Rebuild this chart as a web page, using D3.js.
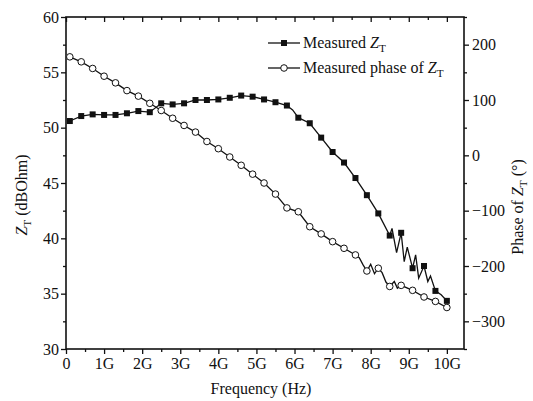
<!DOCTYPE html>
<html>
<head>
<meta charset="utf-8">
<script src="https://cdn.jsdelivr.net/npm/d3@7"></script>
<style>
  html, body { margin: 0; padding: 0; background: #fff; }
  svg text { font-family: "Liberation Serif", "Times New Roman", serif; fill: #111; }
</style>
</head>
<body>
<div id="chart"></div>
<script>
// marker positions (GHz)
const freqGHz = [0.1, 0.4, 0.7, 1.0, 1.3, 1.6, 1.9, 2.2, 2.5, 2.8, 3.1, 3.4, 3.7, 4.0, 4.3, 4.6, 4.9,
                 5.2, 5.5, 5.8, 6.1, 6.4, 6.7, 7.0, 7.3, 7.6, 7.9, 8.2, 8.5, 8.8, 9.1, 9.4, 9.7, 10.0];
// measured Z_T (dBOhm)
const ztDb = [50.6, 51.05, 51.2, 51.15, 51.15, 51.3, 51.5, 51.4, 52.2, 52.1, 52.2, 52.5, 52.5, 52.55, 52.7, 52.9, 52.8,
              52.55, 52.3, 52.0, 50.9, 50.4, 49.1, 47.8, 46.85, 45.45, 43.9, 42.25, 40.25, 40.5, 37.3, 37.5, 35.25, 34.35];
// measured phase of Z_T (deg)
const phaseDeg = [178, 169, 157, 143, 131, 117, 107, 94, 81, 67, 54, 42, 25, 12, -3, -18, -34,
                  -50, -70, -95, -102, -129, -142, -156, -168, -180, -209, -204, -237, -235, -244, -256, -264, -275];

// extra trace points between markers (the zig-zag part of the curves)
const ztExtraF = [5.95, 8.56, 8.68, 8.88, 8.96, 9.18, 9.26, 9.5, 9.57, 9.85];
const ztExtraV = [51.6, 40.9, 38.7, 37.9, 39.2, 38.5, 36.4, 36.1, 36.6, 34.9];
const phExtraF = [7.7, 7.8, 8.0, 8.1, 8.3, 8.4, 8.62, 8.7];
const phExtraV = [-185, -198, -197, -214, -212, -229, -228, -240];

// ticks
const xMajor = [0, 1, 2, 3, 4, 5, 6, 7, 8, 9, 10];
const xMinor = [0.5, 1.5, 2.5, 3.5, 4.5, 5.5, 6.5, 7.5, 8.5, 9.5];
const yLeftMajor = [30, 35, 40, 45, 50, 55, 60];
const yLeftMinor = [32.5, 37.5, 42.5, 47.5, 52.5, 57.5];
const yRightMajor = [-300, -200, -100, 0, 100, 200];
const yRightMinor = [-350, -250, -150, -50, 50, 150, 250];

const W = 533, H = 401;
const L = 66, R = 464, T = 17, B = 349;

const svg = d3.select('#chart').append('svg')
    .attr('width', W).attr('height', H);

const x = d3.scaleLinear().domain([0, 10.45]).range([L, R]);
const yL = d3.scaleLinear().domain([30, 60]).range([B, T]);
const yR = d3.scaleLinear().domain([-350, 250]).range([B, T]);

function styleAxis(g) {
    g.select('.domain').remove();
    g.selectAll('line').attr('stroke', '#111').attr('stroke-width', 1.3);
    g.selectAll('text').style('font-size', '16px');
}

const fmtG = d => d === 0 ? '0' : d + 'G';

// bottom axis
svg.append('g').attr('transform', `translate(0,${B})`)
    .call(d3.axisBottom(x).tickValues(xMajor).tickFormat(fmtG).tickSize(5).tickPadding(4))
    .call(styleAxis);
svg.append('g').attr('transform', `translate(0,${B})`)
    .call(d3.axisBottom(x).tickValues(xMinor).tickFormat('').tickSize(3))
    .call(styleAxis);
// top axis (ticks inward)
svg.append('g').attr('transform', `translate(0,${T})`)
    .call(d3.axisBottom(x).tickValues(xMajor).tickFormat('').tickSize(5))
    .call(styleAxis);
svg.append('g').attr('transform', `translate(0,${T})`)
    .call(d3.axisBottom(x).tickValues(xMinor).tickFormat('').tickSize(3))
    .call(styleAxis);
// left axis
svg.append('g').attr('transform', `translate(${L},0)`)
    .call(d3.axisLeft(yL).tickValues(yLeftMajor).tickSize(5).tickPadding(2))
    .call(styleAxis);
svg.append('g').attr('transform', `translate(${L},0)`)
    .call(d3.axisLeft(yL).tickValues(yLeftMinor).tickFormat('').tickSize(3))
    .call(styleAxis);
// right axis
svg.append('g').attr('transform', `translate(${R},0)`)
    .call(d3.axisRight(yR).tickValues(yRightMajor).tickFormat(d => d < 0 ? '\u2212' + (-d) : d).tickSize(5).tickPadding(3))
    .call(styleAxis);
svg.append('g').attr('transform', `translate(${R},0)`)
    .call(d3.axisRight(yR).tickValues(yRightMinor).tickFormat('').tickSize(3))
    .call(styleAxis);

// frame
svg.append('rect')
    .attr('x', L).attr('y', T).attr('width', R - L).attr('height', B - T)
    .attr('fill', 'none').attr('stroke', '#111').attr('stroke-width', 1.6);

// build traces
const ztMarks = freqGHz.map((f, i) => [f, ztDb[i]]);
const phMarks = freqGHz.map((f, i) => [f, phaseDeg[i]]);
const ztTrace = ztMarks.concat(ztExtraF.map((f, i) => [f, ztExtraV[i]])).sort((a, b) => a[0] - b[0]);
const phTrace = phMarks.concat(phExtraF.map((f, i) => [f, phExtraV[i]])).sort((a, b) => a[0] - b[0]);

const lineL = d3.line().x(d => x(d[0])).y(d => yL(d[1]));
const lineR = d3.line().x(d => x(d[0])).y(d => yR(d[1]));

svg.append('path').datum(phTrace)
    .attr('d', lineR).attr('fill', 'none').attr('stroke', '#111').attr('stroke-width', 1.3);
svg.append('path').datum(ztTrace)
    .attr('d', lineL).attr('fill', 'none').attr('stroke', '#111').attr('stroke-width', 1.3);

svg.append('g').selectAll('circle').data(phMarks).join('circle')
    .attr('cx', d => x(d[0])).attr('cy', d => yR(d[1])).attr('r', 3.3)
    .attr('fill', '#fff').attr('stroke', '#111').attr('stroke-width', 1);
svg.append('g').selectAll('rect').data(ztMarks).join('rect')
    .attr('x', d => x(d[0]) - 3).attr('y', d => yL(d[1]) - 3)
    .attr('width', 6).attr('height', 6).attr('fill', '#111');

// Z_T style label helper
function zLabel(sel, before, after, size) {
    if (before) sel.append('tspan').text(before);
    sel.append('tspan').attr('font-style', 'italic').text('Z');
    sel.append('tspan').attr('dy', 4).style('font-size', (size * 0.7) + 'px').text('T');
    if (after) sel.append('tspan').attr('dy', -4).text(after);
}

// legend
const legend = svg.append('g');
legend.append('line').attr('x1', 268).attr('x2', 300).attr('y1', 43).attr('y2', 43)
    .attr('stroke', '#111').attr('stroke-width', 1.3);
legend.append('rect').attr('x', 281).attr('y', 40).attr('width', 6).attr('height', 6).attr('fill', '#111');
zLabel(legend.append('text').attr('x', 303).attr('y', 48).style('font-size', '16px'), 'Measured ', null, 16);

legend.append('line').attr('x1', 268).attr('x2', 300).attr('y1', 68).attr('y2', 68)
    .attr('stroke', '#111').attr('stroke-width', 1.3);
legend.append('circle').attr('cx', 284).attr('cy', 68).attr('r', 3.3)
    .attr('fill', '#fff').attr('stroke', '#111');
zLabel(legend.append('text').attr('x', 303).attr('y', 73).style('font-size', '16px'), 'Measured phase of ', null, 16);

// axis titles
svg.append('text').attr('x', 261).attr('y', 394).attr('text-anchor', 'middle')
    .style('font-size', '16px').text('Frequency (Hz)');

zLabel(svg.append('text')
    .attr('transform', 'translate(27,195) rotate(-90)').attr('text-anchor', 'middle')
    .style('font-size', '16px'), null, ' (dBOhm)', 16);

zLabel(svg.append('text')
    .attr('transform', 'translate(523,207) rotate(-90)').attr('text-anchor', 'middle')
    .style('font-size', '16px'), 'Phase of ', ' (\u00B0)', 16);
</script>
</body>
</html>
